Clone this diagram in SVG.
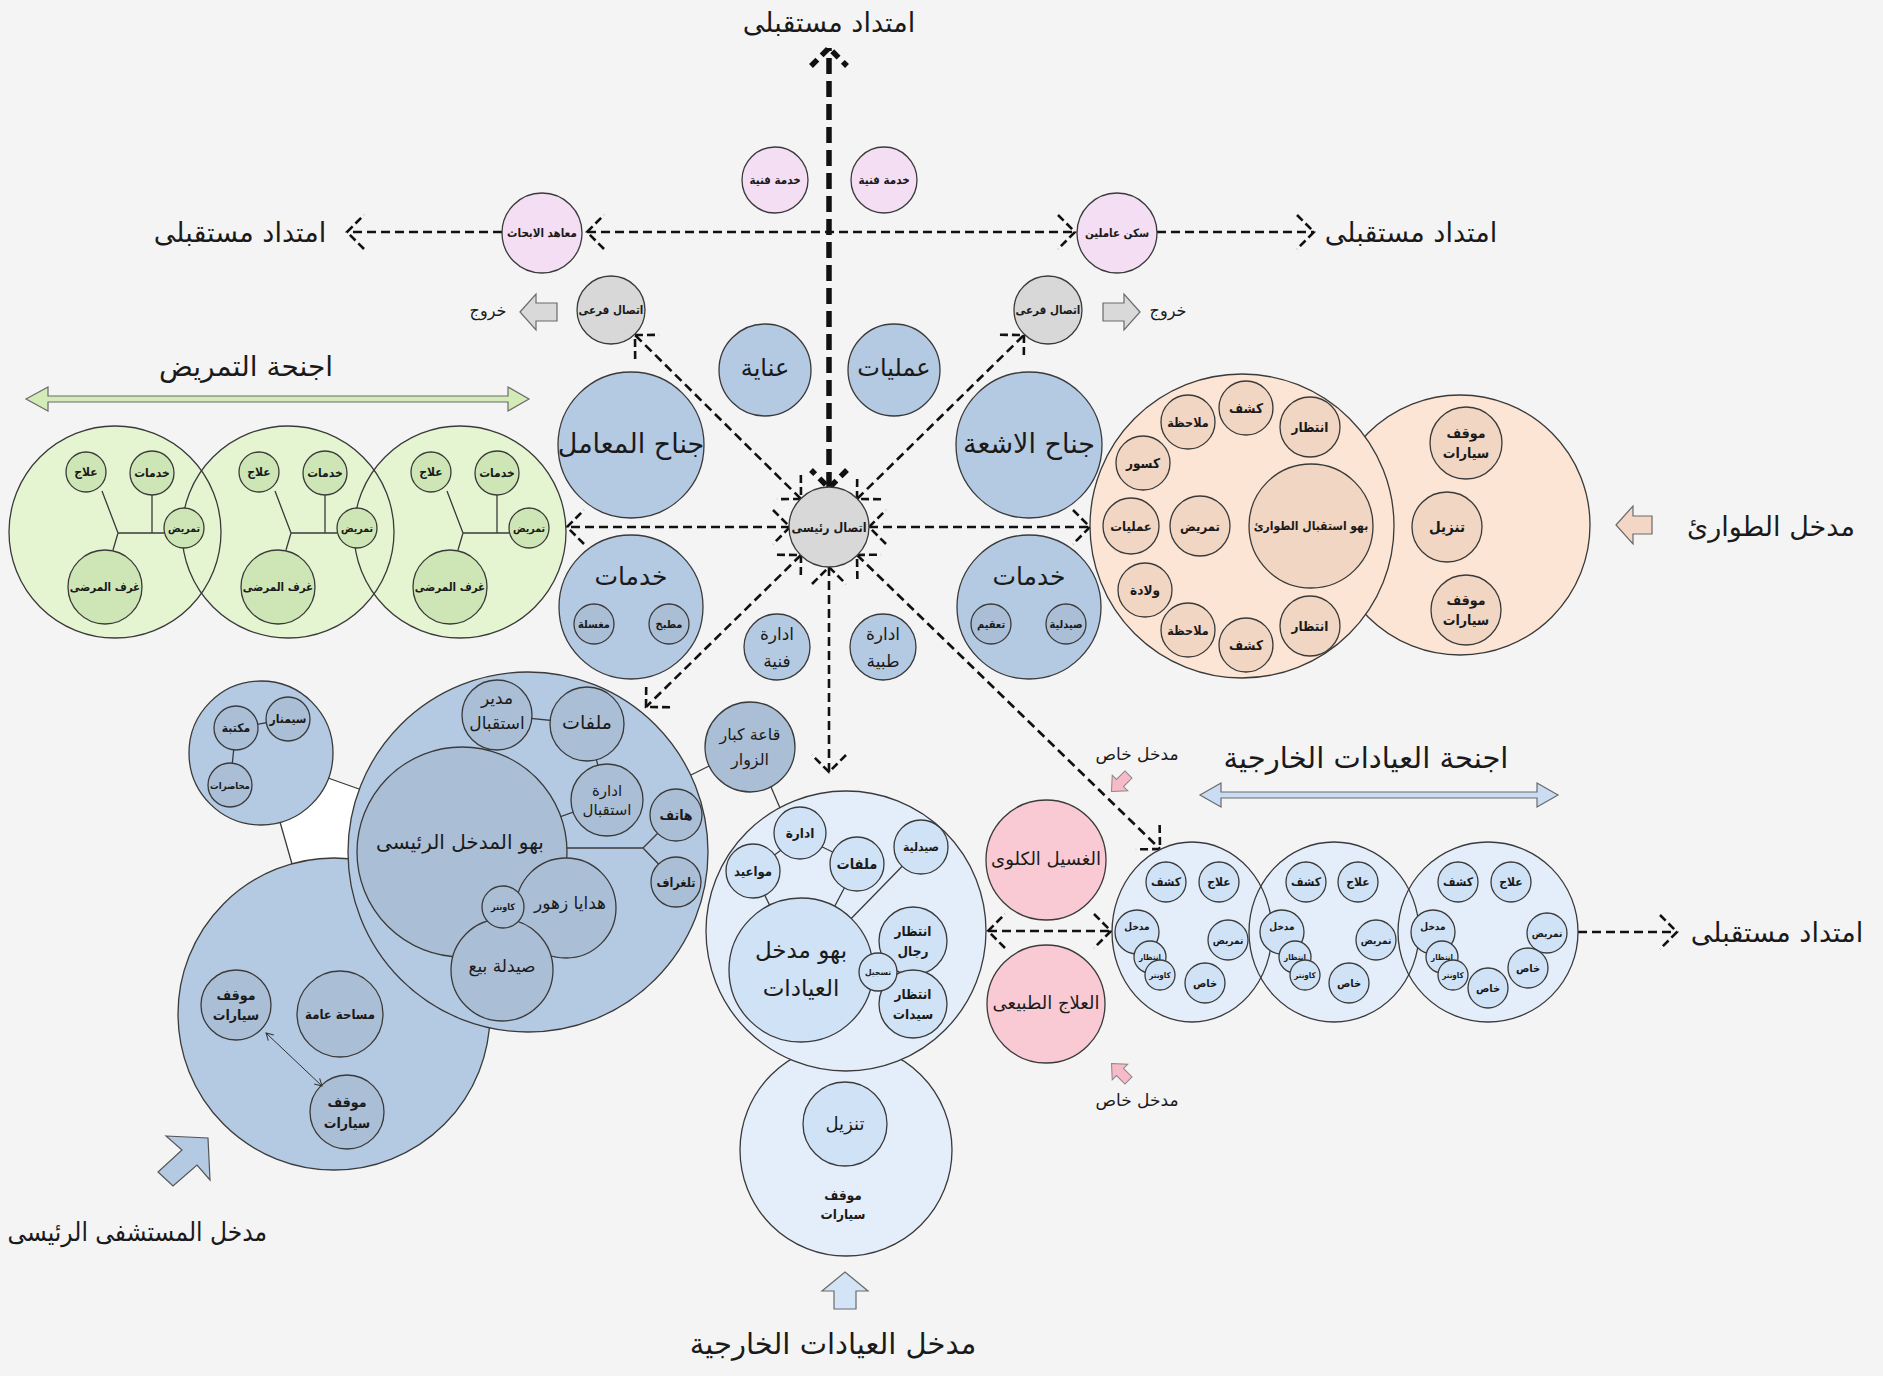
<svg xmlns="http://www.w3.org/2000/svg" width="1883" height="1376" viewBox="0 0 1883 1376">
<defs>
<style>
.c{stroke:#3a3a3a;stroke-width:1.3}
.blue{fill:#b4c9e2}
.blue2{fill:#aabed6}
.lav{fill:#f3def3}
.gry{fill:#d8d8d8}
.grn{fill:#e6f5d1}
.grn2{fill:#cee6b6}
.pch{fill:#fce5d5}
.pch2{fill:#f1d6c3}
.lb{fill:#e4eefa}
.lb2{fill:#d0e2f6}
.pnk{fill:#f9cad4}
.no{fill:none}
.ln{stroke:#3a3a3a;stroke-width:1.3;fill:none}
.d{fill:none;stroke:#111;stroke-width:2.6;stroke-dasharray:9 5}
.dt{fill:none;stroke:#111;stroke-width:5.5;stroke-dasharray:16 7}
.t{font-family:"DejaVu Sans",sans-serif;text-anchor:middle;dominant-baseline:central;fill:#1a1a1a}
.b{font-family:"DejaVu Sans Condensed","DejaVu Sans",sans-serif;font-weight:bold}
.cn{font-family:"DejaVu Sans Condensed","DejaVu Sans",sans-serif}
.blk{stroke:#6a6a6a;stroke-width:1.2}
</style>
<marker id="ah" markerUnits="userSpaceOnUse" viewBox="-30 -30 60 60" markerWidth="60" markerHeight="60" refX="0" refY="0" orient="auto-start-reverse">
<path d="M-17,-17L0,0L-17,17" fill="none" stroke="#111" stroke-width="2.6" stroke-dasharray="8 4"/>
</marker>
<marker id="ahT" markerUnits="userSpaceOnUse" viewBox="-30 -30 60 60" markerWidth="60" markerHeight="60" refX="0" refY="0" orient="auto-start-reverse">
<path d="M-18,-18L0,0L-18,18" fill="none" stroke="#111" stroke-width="5.5" stroke-dasharray="9 6"/>
</marker>
<marker id="sa" markerUnits="userSpaceOnUse" viewBox="-10 -10 20 20" markerWidth="20" markerHeight="20" refX="0" refY="0" orient="auto-start-reverse">
<path d="M-7,-4L0,0L-7,4" fill="none" stroke="#333" stroke-width="1"/>
</marker>
</defs>
<rect width="1883" height="1376" fill="#f4f4f4"/>

<!-- connectors -->
<g id="connectors">
<path class="dt" d="M829,488L829,48" marker-start="url(#ahT)" marker-end="url(#ahT)"/>
<path class="d" d="M790,527L567,527" marker-start="url(#ah)" marker-end="url(#ah)"/>
<path class="d" d="M869,527L1090,527" marker-start="url(#ah)" marker-end="url(#ah)"/>
<path class="d" d="M801,499L635,335" marker-start="url(#ah)" marker-end="url(#ah)"/>
<path class="d" d="M857,499L1024,335" marker-start="url(#ah)" marker-end="url(#ah)"/>
<path class="d" d="M801,555L646,707" marker-start="url(#ah)" marker-end="url(#ah)"/>
<path class="d" d="M857,555L1160,849" marker-start="url(#ah)" marker-end="url(#ah)"/>
<path class="d" d="M829,567L829,772" marker-start="url(#ah)" marker-end="url(#ah)"/>
<path class="d" d="M587,232L1075,232" marker-start="url(#ah)" marker-end="url(#ah)"/>
<path class="d" d="M502,232L347,232" marker-end="url(#ah)"/>
<path class="d" d="M1157,232L1314,232" marker-end="url(#ah)"/>
<path class="d" d="M988,931L1111,931" marker-start="url(#ah)" marker-end="url(#ah)"/>
<path class="d" d="M1578,932L1677,932" marker-end="url(#ah)"/>
</g>

<!-- top pink nodes -->
<g id="n-research"><circle class="c lav" cx="542" cy="233" r="40"/><text class="t b" x="542" y="233" font-size="11.5">معاهد الابحاث</text></g>
<g id="n-tech1"><circle class="c lav" cx="775" cy="180" r="33"/><text class="t b" x="775" y="180" font-size="11.5">خدمة فنية</text></g>
<g id="n-tech2"><circle class="c lav" cx="884" cy="180" r="33"/><text class="t b" x="884" y="180" font-size="11.5">خدمة فنية</text></g>
<g id="n-staff"><circle class="c lav" cx="1117" cy="233" r="40"/><text class="t b" x="1117" y="233" font-size="11.5">سكن عاملين</text></g>

<!-- branch connections -->
<g id="n-branch-left"><circle class="c gry" cx="611" cy="310" r="34"/><text class="t b" x="611" y="310" font-size="11.5">اتصال فرعى</text></g>
<g id="n-branch-right"><circle class="c gry" cx="1048" cy="310" r="34"/><text class="t b" x="1048" y="310" font-size="11.5">اتصال فرعى</text></g>
<g id="n-main"><circle class="c gry" cx="829" cy="527" r="40"/><text class="t b" x="829" y="527" font-size="12.5">اتصال رئيسى</text></g>

<!-- exit arrows -->
<g id="n-exit-left"><polygon class="blk" fill="#d9d9d9" points="520,312 536,294 536,303 557,303 557,321 536,321 536,330"/><text class="t" x="488" y="310" font-size="16">خروج</text></g>
<g id="n-exit-right"><polygon class="blk" fill="#d9d9d9" points="1140,312 1124,294 1124,303 1103,303 1103,321 1124,321 1124,330"/><text class="t" x="1168" y="310" font-size="16">خروج</text></g>

<!-- future labels -->
<g id="n-future-top"><text class="t" x="829" y="22" font-size="27">امتداد مستقبلى</text></g>
<g id="n-future-left"><text class="t" x="240" y="232" font-size="27">امتداد مستقبلى</text></g>
<g id="n-future-right"><text class="t" x="1411" y="232" font-size="27">امتداد مستقبلى</text></g>
<g id="n-future-outpt"><text class="t" x="1777" y="932" font-size="27">امتداد مستقبلى</text></g>

<!-- central blue nodes -->
<g id="n-care"><circle class="c blue" cx="765" cy="370" r="46"/><text class="t" x="765" y="368" font-size="24">عناية</text></g>
<g id="n-ops"><circle class="c blue" cx="894" cy="370" r="46"/><text class="t" x="894" y="368" font-size="24">عمليات</text></g>
<g id="n-lab"><circle class="c blue" cx="631" cy="445" r="73"/><text class="t" x="631" y="443" font-size="27">جناح المعامل</text></g>
<g id="n-xray"><circle class="c blue" cx="1029" cy="445" r="73"/><text class="t" x="1029" y="443" font-size="27">جناح الاشعة</text></g>
<g id="n-serv-left"><circle class="c blue" cx="631" cy="607" r="72"/><text class="t" x="631" y="576" font-size="25">خدمات</text>
<circle class="c blue2" cx="594" cy="624" r="20"/><text class="t b" x="594" y="624" font-size="11">مغسلة</text>
<circle class="c blue2" cx="669" cy="624" r="20"/><text class="t b" x="669" y="624" font-size="11">مطبخ</text></g>
<g id="n-serv-right"><circle class="c blue" cx="1029" cy="607" r="72"/><text class="t" x="1029" y="576" font-size="25">خدمات</text>
<circle class="c blue2" cx="991" cy="624" r="20"/><text class="t b" x="991" y="624" font-size="11">تعقيم</text>
<circle class="c blue2" cx="1066" cy="624" r="20"/><text class="t b" x="1066" y="624" font-size="11">صيدلية</text></g>
<g id="n-admin-tech"><circle class="c blue" cx="777" cy="647" r="33"/><text class="t" x="777" y="634" font-size="17">ادارة</text><text class="t" x="777" y="661" font-size="17">فنية</text></g>
<g id="n-admin-med"><circle class="c blue" cx="883" cy="647" r="33"/><text class="t" x="883" y="634" font-size="17">ادارة</text><text class="t" x="883" y="661" font-size="17">طبية</text></g>

<!-- nursing wings -->
<g id="n-nursing">
<path class="blk" d="M26,399L48,387L48,396L508,396L508,387L529,399L508,411L508,402L48,402L48,411Z" fill="#d3ebb6"/>
<text class="t" x="246" y="366" font-size="28">اجنحة التمريض</text>
<circle class="grn" cx="115" cy="532" r="106"/><circle class="grn" cx="288" cy="532" r="106"/><circle class="grn" cx="460" cy="532" r="106"/>
<circle class="c no" cx="115" cy="532" r="106"/><circle class="c no" cx="288" cy="532" r="106"/><circle class="c no" cx="460" cy="532" r="106"/>
</g>
<g id="n-wing1" transform="translate(115,532)">
<path class="ln" d="M3,1H49M37,1V-37M3,1L-13,-41M3,1L-2,18"/>
<circle class="c grn2" cx="-29" cy="-60" r="20"/><text class="t b" x="-29" y="-60" font-size="12">علاج</text>
<circle class="c grn2" cx="37" cy="-59" r="22"/><text class="t b" x="37" y="-59" font-size="12">خدمات</text>
<circle class="c grn2" cx="69" cy="-4" r="20"/><text class="t b" x="69" y="-4" font-size="10.5">تمريض</text>
<circle class="c grn2" cx="-10" cy="55" r="37"/><text class="t b" x="-10" y="55" font-size="11.5">غرف المرضى</text>
</g>
<g id="n-wing2" transform="translate(288,532)">
<path class="ln" d="M3,1H49M37,1V-37M3,1L-13,-41M3,1L-2,18"/>
<circle class="c grn2" cx="-29" cy="-60" r="20"/><text class="t b" x="-29" y="-60" font-size="12">علاج</text>
<circle class="c grn2" cx="37" cy="-59" r="22"/><text class="t b" x="37" y="-59" font-size="12">خدمات</text>
<circle class="c grn2" cx="69" cy="-4" r="20"/><text class="t b" x="69" y="-4" font-size="10.5">تمريض</text>
<circle class="c grn2" cx="-10" cy="55" r="37"/><text class="t b" x="-10" y="55" font-size="11.5">غرف المرضى</text>
</g>
<g id="n-wing3" transform="translate(460,532)">
<path class="ln" d="M3,1H49M37,1V-37M3,1L-13,-41M3,1L-2,18"/>
<circle class="c grn2" cx="-29" cy="-60" r="20"/><text class="t b" x="-29" y="-60" font-size="12">علاج</text>
<circle class="c grn2" cx="37" cy="-59" r="22"/><text class="t b" x="37" y="-59" font-size="12">خدمات</text>
<circle class="c grn2" cx="69" cy="-4" r="20"/><text class="t b" x="69" y="-4" font-size="10.5">تمريض</text>
<circle class="c grn2" cx="-10" cy="55" r="37"/><text class="t b" x="-10" y="55" font-size="11.5">غرف المرضى</text>
</g>

<!-- emergency -->
<g id="n-emergency">
<circle class="c pch" cx="1460" cy="525" r="130"/>
<circle class="c pch2" cx="1466" cy="443" r="36"/><text class="t b" x="1466" y="433" font-size="14">موقف</text><text class="t b" x="1466" y="453" font-size="14">سيارات</text>
<circle class="c pch2" cx="1447" cy="527" r="35"/><text class="t b" x="1447" y="527" font-size="15">تنزيل</text>
<circle class="c pch2" cx="1466" cy="610" r="35"/><text class="t b" x="1466" y="600" font-size="14">موقف</text><text class="t b" x="1466" y="620" font-size="14">سيارات</text>
<circle class="c pch" cx="1242" cy="526" r="152"/>
<circle class="c pch2" cx="1311" cy="526" r="62"/><text class="t b" x="1311" y="526" font-size="12">بهو استقبال الطوارئ</text>
<circle class="c pch2" cx="1200" cy="526" r="30"/><text class="t b" x="1200" y="526" font-size="13">تمريض</text>
<circle class="c pch2" cx="1131" cy="526" r="28"/><text class="t b" x="1131" y="526" font-size="13">عمليات</text>
<circle class="c pch2" cx="1143" cy="463" r="27"/><text class="t b" x="1143" y="463" font-size="13.5">كسور</text>
<circle class="c pch2" cx="1188" cy="422" r="27"/><text class="t b" x="1188" y="422" font-size="12.5">ملاحظة</text>
<circle class="c pch2" cx="1246" cy="408" r="27"/><text class="t b" x="1246" y="408" font-size="13.5">كشف</text>
<circle class="c pch2" cx="1310" cy="427" r="30"/><text class="t b" x="1310" y="427" font-size="13.5">انتظار</text>
<circle class="c pch2" cx="1145" cy="590" r="27"/><text class="t b" x="1145" y="590" font-size="13.5">ولادة</text>
<circle class="c pch2" cx="1188" cy="630" r="27"/><text class="t b" x="1188" y="630" font-size="12.5">ملاحظة</text>
<circle class="c pch2" cx="1246" cy="645" r="27"/><text class="t b" x="1246" y="645" font-size="13.5">كشف</text>
<circle class="c pch2" cx="1310" cy="626" r="30"/><text class="t b" x="1310" y="626" font-size="13.5">انتظار</text>
</g>
<g id="n-emergency-entry"><polygon class="blk" fill="#f3d6c5" points="1616,525 1633,506 1633,516 1652,516 1652,534 1633,534 1633,544"/><text class="t" x="1771" y="526" font-size="27">مدخل الطوارئ</text></g>

<!-- main lobby area -->
<g id="n-main-entrance">
<polygon points="328,778 359,789 348,859 334,857 292,864 280,822" fill="#ffffff"/>
<path class="ln" d="M328,778L359,789M280,822L292,864M709,766L691,775"/>
<circle class="c blue" cx="261" cy="753" r="72"/>
<path class="ln" d="M236,728L288,719M236,728L230,785"/>
<circle class="c blue2" cx="288" cy="719" r="22"/><text class="t b" x="288" y="719" font-size="12">سيمنار</text>
<circle class="c blue2" cx="236" cy="728" r="22"/><text class="t b" x="236" y="728" font-size="12">مكتبة</text>
<circle class="c blue2" cx="230" cy="785" r="22"/><text class="t b" x="230" y="785" font-size="9.5">محاضرات</text>
<circle class="c blue" cx="334" cy="1014" r="156"/>
<circle class="c blue2" cx="236" cy="1005" r="35"/><text class="t b" x="236" y="995" font-size="14">موقف</text><text class="t b" x="236" y="1015" font-size="14">سيارات</text>
<circle class="c blue2" cx="340" cy="1014" r="43"/><text class="t b" x="340" y="1014" font-size="13">مساحة عامة</text>
<circle class="c blue2" cx="347" cy="1112" r="37"/><text class="t b" x="347" y="1102" font-size="14">موقف</text><text class="t b" x="347" y="1123" font-size="14">سيارات</text>
<path d="M266,1033L322,1086" stroke="#333" stroke-width="1" fill="none" marker-start="url(#sa)" marker-end="url(#sa)"/>
<circle class="c blue" cx="528" cy="852" r="180"/>
<path class="ln" d="M497,715L587,724M587,724L607,800M607,800L462,852M497,715L462,852M462,848H643M643,848L676,815M643,848L676,882"/>
<circle class="c blue2" cx="462" cy="852" r="105"/><text class="t" x="460" y="842" font-size="20">بهو المدخل الرئيسى</text>
<circle class="c blue2" cx="497" cy="715" r="35"/><text class="t" x="497" y="698" font-size="17">مدير</text><text class="t" x="497" y="723" font-size="17">استقبال</text>
<circle class="c blue2" cx="587" cy="724" r="37"/><text class="t" x="587" y="722" font-size="19">ملفات</text>
<circle class="c blue2" cx="607" cy="800" r="36"/><text class="t" x="607" y="791" font-size="15">ادارة</text><text class="t" x="607" y="810" font-size="15">استقبال</text>
<circle class="c blue2" cx="676" cy="815" r="26"/><text class="t b" x="676" y="815" font-size="14">هاتف</text>
<circle class="c blue2" cx="676" cy="882" r="25"/><text class="t b" x="676" y="882" font-size="12.5">تلغراف</text>
<circle class="c blue2" cx="566" cy="908" r="50"/><text class="t" x="570" y="903" font-size="17">هدايا زهور</text>
<circle class="c blue2" cx="502" cy="970" r="51"/><text class="t" x="502" y="966" font-size="17">صيدلة بيع</text>
<circle class="c blue2" cx="503" cy="907" r="21"/><text class="t b" x="503" y="907" font-size="9">كاونتر</text>
</g>
<g id="n-vip"><circle class="c blue2" cx="750" cy="747" r="45"/><text class="t" x="750" y="734" font-size="16">قاعة كبار</text><text class="t" x="750" y="759" font-size="16">الزوار</text></g>
<g id="n-main-entry"><polygon stroke="#555" stroke-width="1.2" fill="#b4c9e2" points="166,1136 208,1138 210,1180 197,1165 173,1186 158,1172 182,1150"/><text class="t cn" x="267" y="1232" font-size="26" style="text-anchor:end">مدخل المستشفى الرئيسى</text></g>

<!-- outpatient lobby -->
<g id="n-outpatient-lobby">
<circle class="c lb" cx="846" cy="1150" r="106"/>
<circle class="c lb2" cx="845" cy="1124" r="42"/><text class="t" x="845" y="1123" font-size="18">تنزيل</text>
<text class="t b" x="843" y="1195" font-size="13.5">موقف</text><text class="t b" x="843" y="1214" font-size="13.5">سيارات</text>
<path class="ln" d="M771,787L780,808"/>
<circle class="c lb" cx="846" cy="931" r="140"/>
<path class="ln" d="M800,836L753,871M800,836L857,864M753,871L801,970M857,864L801,970M921,847L801,970"/>
<circle class="c lb2" cx="801" cy="970" r="72"/><text class="t" x="801" y="950" font-size="23">بهو مدخل</text><text class="t" x="801" y="988" font-size="23">العيادات</text>
<circle class="c lb2" cx="800" cy="833" r="26"/><text class="t b" x="800" y="833" font-size="13.5">ادارة</text>
<circle class="c lb2" cx="753" cy="871" r="27"/><text class="t b" x="753" y="871" font-size="13">مواعيد</text>
<circle class="c lb2" cx="857" cy="864" r="27"/><text class="t b" x="857" y="864" font-size="14.5">ملفات</text>
<circle class="c lb2" cx="921" cy="847" r="27"/><text class="t b" x="921" y="847" font-size="12">صيدلية</text>
<circle class="c lb2" cx="913" cy="941" r="34"/><text class="t b" x="913" y="931" font-size="13.5">انتظار</text><text class="t b" x="913" y="951" font-size="13.5">رجال</text>
<circle class="c lb2" cx="913" cy="1004" r="34"/><text class="t b" x="913" y="994" font-size="13.5">انتظار</text><text class="t b" x="913" y="1014" font-size="13.5">سيدات</text>
<circle class="c lb2" cx="878" cy="972" r="19"/><text class="t b" x="878" y="972" font-size="8.5">تسجيل</text>
</g>
<g id="n-outpatient-entry"><polygon class="blk" fill="#d3e4f6" points="845,1272 868,1291 856,1291 856,1309 834,1309 834,1291 822,1291"/><text class="t" x="833" y="1344" font-size="29">مدخل العيادات الخارجية</text></g>

<!-- dialysis / physio -->
<g id="n-dialysis"><circle class="c pnk" cx="1046" cy="860" r="60"/><text class="t" x="1046" y="858" font-size="18">الغسيل الكلوى</text></g>
<g id="n-physio"><circle class="c pnk" cx="1046" cy="1004" r="59"/><text class="t" x="1046" y="1002" font-size="18">العلاج الطبيعى</text></g>
<g id="n-private1"><text class="t" x="1137" y="754" font-size="17">مدخل خاص</text><polygon stroke="#888" stroke-width="1" fill="#f6bac8" points="12,0 0,-11 0,-5 -12,-5 -12,5 0,5 0,11" transform="translate(1120,783) rotate(135)"/></g>
<g id="n-private2"><text class="t" x="1137" y="1100" font-size="17">مدخل خاص</text><polygon stroke="#888" stroke-width="1" fill="#f6bac8" points="12,0 0,-11 0,-5 -12,-5 -12,5 0,5 0,11" transform="translate(1120,1072) rotate(-135)"/></g>

<!-- outpatient wings -->
<g id="n-outpatient-wings">
<path class="blk" fill="#c9dcf2" d="M1200,795L1221,783L1221,792L1537,792L1537,783L1558,795L1537,807L1537,798L1221,798L1221,807Z"/>
<text class="t" x="1366" y="758" font-size="29">اجنحة العيادات الخارجية</text>
<ellipse class="lb" cx="1192" cy="932" rx="80" ry="90"/><ellipse class="lb" cx="1334" cy="932" rx="85" ry="90"/><ellipse class="lb" cx="1488" cy="932" rx="90" ry="90"/>
<ellipse class="c no" cx="1192" cy="932" rx="80" ry="90"/><ellipse class="c no" cx="1334" cy="932" rx="85" ry="90"/><ellipse class="c no" cx="1488" cy="932" rx="90" ry="90"/>
</g>
<g id="n-clinic1">
<circle class="c lb2" cx="1166" cy="882" r="20"/><text class="t b" x="1166" y="882" font-size="12">كشف</text>
<circle class="c lb2" cx="1219" cy="882" r="20"/><text class="t b" x="1219" y="882" font-size="12">علاج</text>
<circle class="c lb2" cx="1137" cy="932" r="22"/><text class="t b" x="1137" y="926" font-size="10">مدخل</text>
<circle class="c lb2" cx="1150" cy="957" r="16"/><text class="t b" x="1150" y="957" font-size="8">انتظار</text>
<circle class="c lb2" cx="1160" cy="975" r="15"/><text class="t b" x="1160" y="975" font-size="8">كاونتر</text>
<circle class="c lb2" cx="1228" cy="940" r="20"/><text class="t b" x="1228" y="940" font-size="10">تمريض</text>
<circle class="c lb2" cx="1205" cy="983" r="20"/><text class="t b" x="1205" y="983" font-size="11">خاص</text>
</g>
<g id="n-clinic2">
<circle class="c lb2" cx="1306" cy="882" r="20"/><text class="t b" x="1306" y="882" font-size="12">كشف</text>
<circle class="c lb2" cx="1358" cy="882" r="20"/><text class="t b" x="1358" y="882" font-size="12">علاج</text>
<circle class="c lb2" cx="1282" cy="932" r="22"/><text class="t b" x="1282" y="926" font-size="10">مدخل</text>
<circle class="c lb2" cx="1295" cy="957" r="16"/><text class="t b" x="1295" y="957" font-size="8">انتظار</text>
<circle class="c lb2" cx="1305" cy="975" r="15"/><text class="t b" x="1305" y="975" font-size="8">كاونتر</text>
<circle class="c lb2" cx="1376" cy="940" r="20"/><text class="t b" x="1376" y="940" font-size="10">تمريض</text>
<circle class="c lb2" cx="1349" cy="983" r="20"/><text class="t b" x="1349" y="983" font-size="11">خاص</text>
</g>
<g id="n-clinic3">
<circle class="c lb2" cx="1458" cy="882" r="20"/><text class="t b" x="1458" y="882" font-size="12">كشف</text>
<circle class="c lb2" cx="1511" cy="882" r="20"/><text class="t b" x="1511" y="882" font-size="12">علاج</text>
<circle class="c lb2" cx="1433" cy="932" r="22"/><text class="t b" x="1433" y="926" font-size="10">مدخل</text>
<circle class="c lb2" cx="1442" cy="957" r="16"/><text class="t b" x="1442" y="957" font-size="8">انتظار</text>
<circle class="c lb2" cx="1453" cy="975" r="15"/><text class="t b" x="1453" y="975" font-size="8">كاونتر</text>
<circle class="c lb2" cx="1547" cy="933" r="20"/><text class="t b" x="1547" y="933" font-size="10">تمريض</text>
<circle class="c lb2" cx="1528" cy="968" r="20"/><text class="t b" x="1528" y="968" font-size="11">خاص</text>
<circle class="c lb2" cx="1488" cy="988" r="20"/><text class="t b" x="1488" y="988" font-size="11">خاص</text>
</g>
</svg>
